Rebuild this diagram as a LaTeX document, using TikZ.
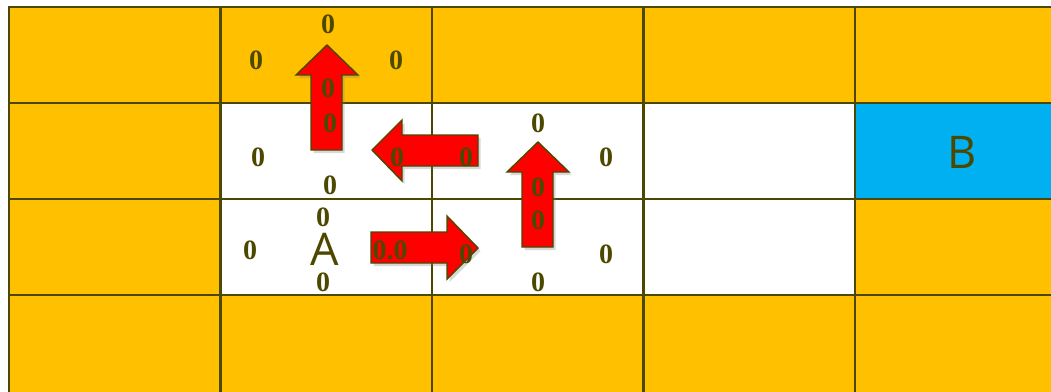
\documentclass[tikz,border=0pt]{standalone}
\usepackage{fontspec}
\setmainfont{Liberation Serif}
\newfontfamily\letterfont{Open Sans}
\usetikzlibrary{shadows}
\definecolor{cellorange}{HTML}{FFC000}
\definecolor{cellblue}{HTML}{00B0F0}
\definecolor{gridolive}{HTML}{4C4800}
\definecolor{arrowred}{HTML}{FF0000}
\tikzset{
  cell/.style={draw=gridolive,line width=2.2pt,fill=cellorange},
  val/.style={text=gridolive,font=\fontsize{28}{28}\selectfont\bfseries,inner sep=0pt},
  letter/.style={text=gridolive,font=\letterfont\fontsize{45}{45}\selectfont,inner sep=0pt,text depth=0pt},
  blockarrow/.style={draw=gridolive,line width=1.4pt,fill=arrowred,line join=miter,
    drop shadow={opacity=0.3,shadow xshift=2.5pt,shadow yshift=-3pt}}
}
\begin{document}
\begin{tikzpicture}[x=1pt,y=-1pt]
\useasboundingbox (0,0) rectangle (1051,391);
\clip (0,0) rectangle (1051,391);
% grid of cells (bottom row runs off the page)
\foreach \c in {0,...,4}
  \foreach \r in {0,...,3}
    \draw[cell] ({9+211.5*\c},{7+96*\r}) rectangle ++(211.5,{\r==3 ? 110 : 96});
\foreach \c/\r in {1/1,2/1,3/1,1/2,2/2,3/2}
  \draw[cell,fill=white] ({9+211.5*\c},{7+96*\r}) rectangle ++(211.5,96);
\draw[cell,fill=cellblue] (855,103) rectangle ++(211.5,96);
% arrows
\draw[blockarrow] (311,150) -- (311,75) -- (296,75) -- (327,45) -- (358,75) -- (342,75) -- (342,150) -- cycle;
\draw[blockarrow] (478,135) -- (402,135) -- (402,120) -- (372,150) -- (402,181) -- (402,166) -- (478,166) -- cycle;
\draw[blockarrow] (522,247) -- (522,172) -- (507,172) -- (538,142) -- (569,172) -- (553,172) -- (553,247) -- cycle;
\draw[blockarrow] (371,232) -- (447,232) -- (447,216) -- (478,248) -- (447,279) -- (447,263) -- (371,263) -- cycle;
% values
\node[val] (q10n) at (328,24) {0};
\node[val] (q10w) at (256,60) {0};
\node[val] (q10e) at (396,60) {0};
\node[val] (q10s) at (328,88) {0};
\node[val] (q11n) at (330,123) {0};
\node[val] (q11w) at (258,157) {0};
\node[val] (q11e) at (397,157) {0};
\node[val] (q11s) at (330,185) {0};
\node[val] (q21n) at (538,123) {0};
\node[val] (q21w) at (466,157) {0};
\node[val] (q21e) at (606,157) {0};
\node[val] (q21s) at (538,187) {0};
\node[val] (q12n) at (323,217) {0};
\node[val] (q12w) at (250,250) {0};
\node[val] (q12e) at (390,250) {0.0};
\node[val] (q12s) at (323,282) {0};
\node[val] (q22n) at (538,220) {0};
\node[val] (q22w) at (466,254) {0};
\node[val] (q22e) at (606,254) {0};
\node[val] (q22s) at (538,282) {0};
% start and goal
\node[letter] (start) at (325,249) {A};
\node[letter] (goal) at (962,152) {B};
\end{tikzpicture}
\end{document}
